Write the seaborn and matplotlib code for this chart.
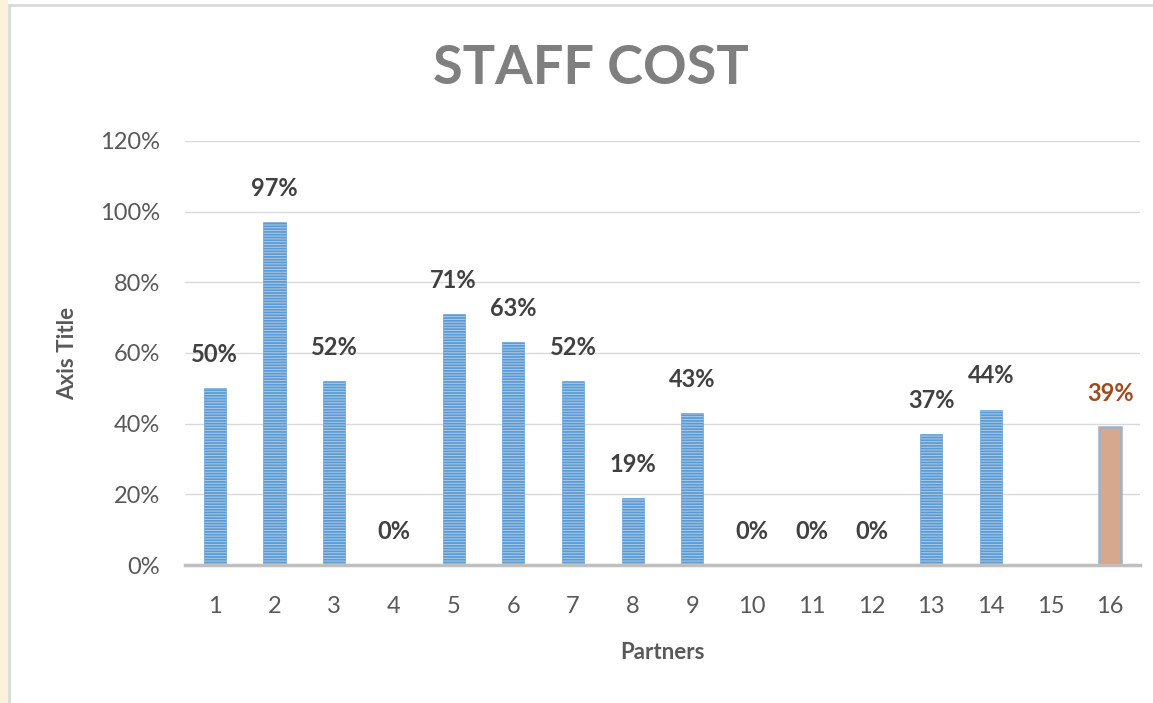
import numpy as np
import pandas as pd
import matplotlib.pyplot as plt
import matplotlib.patches as mpatches
import seaborn as sns

partners = [str(i) for i in range(1, 17)]
staff_cost = [0.50, 0.97, 0.52, 0.00, 0.71, 0.63, 0.52, 0.19, 0.43,
              0.00, 0.00, 0.00, 0.37, 0.44, np.nan, 0.39]
yticks = [0, 0.2, 0.4, 0.6, 0.8, 1.0, 1.2]

df = pd.DataFrame({"Partners": partners, "cost": staff_cost})

sns.set_theme(style="white")
plt.rcParams['font.family'] = ['Lato', 'DejaVu Sans']
plt.rcParams['hatch.linewidth'] = 1.3

fig = plt.figure(figsize=(11.53, 7.03), dpi=100)
ax = fig.add_axes([185 / 1153, 1 - 565 / 703, 955 / 1153, 424 / 703])

sns.barplot(data=df, x="Partners", y="cost", color="#A8CBEC", width=0.37,
            ax=ax, edgecolor="#5B9BD5", linewidth=0.4, hatch="------")

# last bar has a different look
last = ax.patches[-1]
last.set_hatch("")
last.set_facecolor("#D6A88D")
last.set_edgecolor("#A3B0C6")
last.set_linewidth(1.8)

for i, v in enumerate(staff_cost):
    if np.isnan(v):
        continue
    col = "#9C4C1E" if i == len(staff_cost) - 1 else "#404040"
    ax.annotate(f"{v * 100:.0f}%", (i, v), xytext=(0, 16), textcoords="offset points",
                ha="center", va="bottom", fontsize=17, fontweight="bold", color=col)

ax.set_ylim(0, 1.2)
ax.set_xlim(-0.5, 15.5)
ax.set_yticks(yticks)
ax.set_yticklabels([f"{t * 100:.0f}%" for t in yticks])
ax.yaxis.grid(True, color="#D9D9D9", linewidth=1)
ax.set_axisbelow(True)
for s in ["top", "right", "left"]:
    ax.spines[s].set_visible(False)
ax.spines["bottom"].set_color("#BFBFBF")
ax.spines["bottom"].set_linewidth(2.5)
ax.tick_params(axis="both", length=0, labelsize=17, labelcolor="#595959")
ax.tick_params(axis="y", pad=18)
ax.tick_params(axis="x", pad=22)

ax.set_xlabel("Partners", fontsize=16, fontweight="bold", color="#595959", labelpad=18)
ax.set_ylabel("Axis Title", fontsize=16, fontweight="bold", color="#595959", labelpad=16)

fig.text(591 / 1153, 1 - 68 / 703, "STAFF COST", ha="center", va="center",
         fontsize=39, fontweight="bold", color="#7F7F7F")

# chart frame and side strip
fig.patches.append(mpatches.Rectangle((0, 0), 8 / 1153, 1, transform=fig.transFigure,
                                      facecolor="#FBF2DA", edgecolor="none"))
fig.patches.append(mpatches.Rectangle((9 / 1153, -0.01), 1.0, 1 - 5 / 703 + 0.01,
                                      transform=fig.transFigure, facecolor="none",
                                      edgecolor="#D9D9D9", linewidth=2))

fig.savefig("out.png", dpi=100)
